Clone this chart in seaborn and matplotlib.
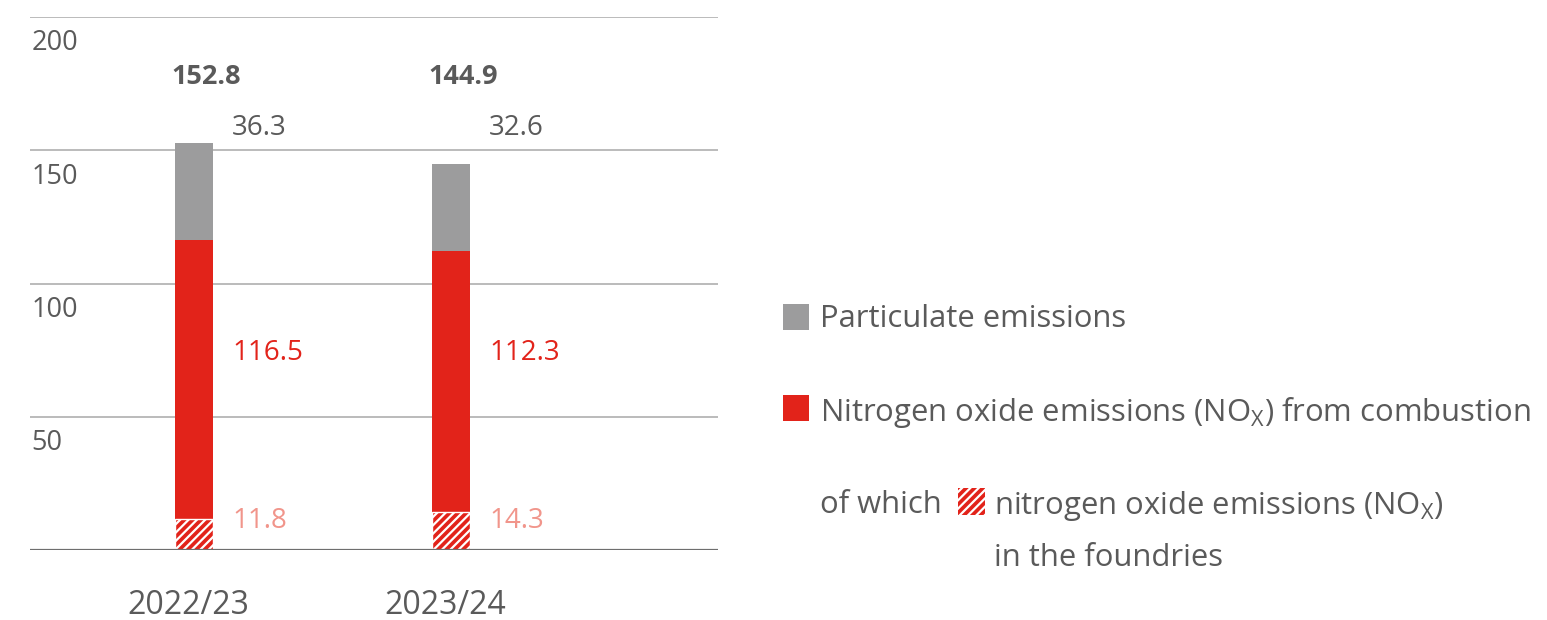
import matplotlib
matplotlib.use("Agg")
import matplotlib.pyplot as plt
import matplotlib.transforms as mtransforms
from matplotlib.patches import Rectangle
import seaborn as sns

# data
years = ["2022/23", "2023/24"]
totals = [152.8, 144.9]
particulate = [36.3, 32.6]
nox_combustion = [116.5, 112.3]
nox_foundries = [11.8, 14.3]
y_ticks = [50, 100, 150, 200]

RED = "#E2231A"
GREY = "#9C9C9D"
TXT = "#5A5A5A"
LIGHT_RED = "#F1958B"

sns.set_theme(style="white")
plt.rcParams['font.family'] = ['Open Sans', 'DejaVu Sans']
plt.rcParams['mathtext.fontset'] = 'custom'
plt.rcParams['mathtext.rm'] = 'Open Sans'
plt.rcParams['hatch.linewidth'] = 1.6
plt.rcParams['hatch.color'] = 'white'

fig = plt.figure(figsize=(15.47, 6.2), dpi=100)
ax = fig.add_axes([30 / 1547, 1 - 550 / 620, 688 / 1547, 533 / 620])

bw = 0.148
sns.barplot(x=years, y=totals, color=GREY, saturation=1, width=bw, ax=ax, zorder=3, linewidth=0)
sns.barplot(x=years, y=nox_combustion, color=RED, saturation=1, width=bw, ax=ax, zorder=4, linewidth=0)
sns.barplot(x=years, y=nox_foundries, color=RED, saturation=1, width=bw, ax=ax, zorder=5,
            hatch='////', edgecolor='white', linewidth=1)

ax.set_xlim(-0.638, 2.039)
ax.set_ylim(0, 200)
for s in ax.spines.values():
    s.set_visible(False)
for v in [50, 100, 150, 200]:
    ax.axhline(v, color="#A8A8A8", lw=1.1, zorder=1)
ax.axhline(0, color="#6E6E6E", lw=1.6, zorder=6)

ax.set_yticks([])
for v in y_ticks:
    ax.annotate(str(v), xy=(0, v), xycoords=('axes fraction', 'data'),
                xytext=(1, -9), textcoords='offset points', ha='left', va='top',
                fontsize=19.5, color=TXT)

ax.set_xlabel("")
ax.set_ylabel("")
ax.tick_params(axis='x', length=0, pad=28, labelsize=23, labelcolor=TXT)
shift = mtransforms.ScaledTranslation(-6 / 100, 0, fig.dpi_scale_trans)
for lbl in ax.get_xticklabels():
    lbl.set_transform(lbl.get_transform() + shift)

for i in range(len(years)):
    x_right = i + bw / 2
    ax.text(i - bw / 2 - 0.012, 177.5, f"{totals[i]:.1f}", ha='left', va='center',
            fontsize=19.5, fontweight='bold', color=TXT)
    ax.text(x_right + 0.075, 158.3, f"{particulate[i]:.1f}", ha='left', va='center',
            fontsize=20, color=TXT)
    ax.text(x_right + 0.075, 73.8, f"{nox_combustion[i]:.1f}", ha='left', va='center',
            fontsize=20, color=RED)
    ax.text(x_right + 0.075, 10.8, f"{nox_foundries[i]:.1f}", ha='left', va='center',
            fontsize=20, color=LIGHT_RED)

# legend drawn in pixel space
leg = fig.add_axes([0, 0, 1, 1], zorder=-1)
leg.set_xlim(0, 1547)
leg.set_ylim(620, 0)
leg.axis('off')
leg.add_patch(Rectangle((783, 304), 26, 26, color=GREY, lw=0))
leg.add_patch(Rectangle((783, 395), 26, 26, color=RED, lw=0))
leg.add_patch(Rectangle((958, 488), 27, 27, facecolor=RED, edgecolor='white', lw=0, hatch='////'))
fs = 22.3
leg.text(820, 319, "Particulate emissions", fontsize=fs, color=TXT, va='center')
leg.text(820, 413, r"Nitrogen oxide emissions (NO$_\mathrm{X}$) from combustion",
         fontsize=fs, color=TXT, va='center')
leg.text(820, 505, "of which", fontsize=fs, color=TXT, va='center')
leg.text(994, 506, r"nitrogen oxide emissions (NO$_\mathrm{X}$)", fontsize=fs, color=TXT, va='center')
leg.text(994, 558, "in the foundries", fontsize=fs, color=TXT, va='center')

fig.savefig("out.png", dpi=100)
